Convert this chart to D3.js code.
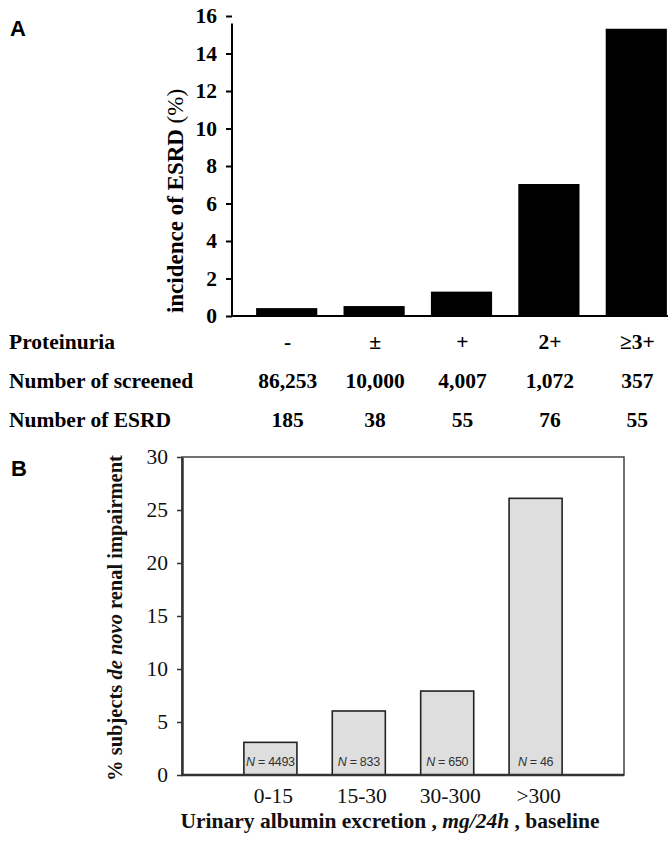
<!DOCTYPE html>
<html>
<head>
<meta charset="utf-8">
<script src="https://cdn.jsdelivr.net/npm/d3@7"></script>
<style>
  body { margin: 0; background: #fff; }
  svg { display: block; }
</style>
</head>
<body>
<svg></svg>
<script>
// panel A data
const proteinuria = ['-', '±', '+', '2+', '≥3+'];
const incidence = [0.42, 0.53, 1.3, 7.04, 15.32];
const screened = [86253, 10000, 4007, 1072, 357];
const esrd = [185, 38, 55, 76, 55];
const ticksA = [0, 2, 4, 6, 8, 10, 12, 14, 16];

// panel B data
const albumin = ['0-15', '15-30', '30-300', '>300'];
const impairment = [3.08, 6.04, 7.92, 26.1];
const subjectsN = [4493, 833, 650, 46];
const ticksB = [0, 5, 10, 15, 20, 25, 30];

const width = 670;
const height = 843;
const serif = '"Liberation Serif", "Times New Roman", serif';
const sans = '"Liberation Sans", Arial, sans-serif';

const svg = d3.select('svg')
    .attr('width', width)
    .attr('height', height);

/* ---------- panel A ---------- */
const xA = d3.scaleBand()
             .domain(proteinuria)
             .range([243, 680])
             .paddingInner(0.3)
             .paddingOuter(0.15);
const yA = d3.scaleLinear()
             .domain([0, 16])
             .range([316, 16]);

const gA = svg.append('g').classed('panelA', true);

gA.append('text')
    .attr('x', 10)
    .attr('y', 36)
    .attr('font-family', sans)
    .attr('font-weight', 'bold')
    .attr('font-size', 22)
    .text('A');

gA.selectAll('.barA')
  .data(incidence)
  .enter()
  .append('rect')
    .classed('barA', true)
    .attr('x', (d, i) => xA(proteinuria[i]))
    .attr('width', xA.bandwidth())
    .attr('y', d => yA(d))
    .attr('height', d => yA(0) - yA(d))
    .attr('fill', '#000');

const axisA = gA.append('g')
    .attr('transform', 'translate(232,0)')
    .call(d3.axisLeft(yA).tickValues(ticksA).tickSize(6).tickPadding(9).tickSizeOuter(0));
axisA.attr('font-family', serif);
axisA.select('.domain').remove();
axisA.selectAll('.tick line').attr('stroke', '#000').attr('stroke-width', 2);
axisA.selectAll('.tick text')
    .attr('font-family', serif)
    .attr('font-weight', 'bold')
    .attr('font-size', 21.5)
    .attr('fill', '#000');

gA.append('line')
    .attr('x1', 232).attr('x2', 232)
    .attr('y1', yA(15.6)).attr('y2', yA(0) + 1)
    .attr('stroke', '#000').attr('stroke-width', 2);
gA.append('line')
    .attr('x1', 231).attr('x2', 668)
    .attr('y1', yA(0)).attr('y2', yA(0))
    .attr('stroke', '#000').attr('stroke-width', 2);

gA.append('text')
    .attr('transform', `translate(183, ${(yA(0) + yA(16)) / 2 + 35}) rotate(-90)`)
    .attr('text-anchor', 'middle')
    .attr('font-family', serif)
    .attr('font-weight', 'bold')
    .attr('font-size', 23)
    .text('incidence of ESRD ')
  .append('tspan')
    .attr('font-weight', 'normal')
    .text('(%)');

// table under panel A
const fmt = d3.format(',');
const rows = [
  { label: 'Proteinuria', values: proteinuria, y: 349 },
  { label: 'Number of screened', values: screened.map(fmt), y: 388 },
  { label: 'Number of ESRD', values: esrd.map(String), y: 427 }
];

const row = gA.selectAll('.row')
  .data(rows)
  .enter()
  .append('g')
    .classed('row', true);

row.append('text')
    .attr('x', 9)
    .attr('y', d => d.y)
    .attr('font-family', serif)
    .attr('font-weight', 'bold')
    .attr('font-size', 21.5)
    .text(d => d.label);

row.selectAll('.cell')
  .data(d => d.values.map((v, i) => ({ v, i, y: d.y })))
  .enter()
  .append('text')
    .classed('cell', true)
    .attr('x', d => xA(proteinuria[d.i]) + xA.bandwidth() / 2 + 1)
    .attr('y', d => d.y)
    .attr('text-anchor', 'middle')
    .attr('font-family', serif)
    .attr('font-weight', 'bold')
    .attr('font-size', 21.5)
    .text(d => d.v);

/* ---------- panel B ---------- */
const xB = d3.scaleBand()
             .domain(albumin)
             .range([226.2, 579.8])
             .paddingInner(0.4)
             .paddingOuter(0.2);
const yB = d3.scaleLinear()
             .domain([0, 30])
             .range([775, 457]);

const gB = svg.append('g').classed('panelB', true);

gB.append('text')
    .attr('x', 11)
    .attr('y', 476)
    .attr('font-family', sans)
    .attr('font-weight', 'bold')
    .attr('font-size', 22)
    .text('B');

gB.append('rect')
    .attr('x', 182)
    .attr('y', yB(30))
    .attr('width', 624 - 182)
    .attr('height', yB(0) - yB(30))
    .attr('fill', 'none')
    .attr('stroke', '#444')
    .attr('stroke-width', 1.5);

gB.selectAll('.barB')
  .data(impairment)
  .enter()
  .append('rect')
    .classed('barB', true)
    .attr('x', (d, i) => xB(albumin[i]))
    .attr('width', xB.bandwidth())
    .attr('y', d => yB(d))
    .attr('height', d => yB(0) - yB(d))
    .attr('fill', '#dedede')
    .attr('stroke', '#222')
    .attr('stroke-width', 1.6);

gB.selectAll('.nlab')
  .data(subjectsN)
  .enter()
  .append('text')
    .classed('nlab', true)
    .attr('x', (d, i) => xB(albumin[i]) + xB.bandwidth() / 2)
    .attr('y', 766)
    .attr('text-anchor', 'middle')
    .attr('font-family', sans)
    .attr('font-size', 12.5)
    .attr('letter-spacing', -0.3)
    .attr('fill', '#333')
    .each(function (d) {
      const t = d3.select(this);
      t.append('tspan').attr('font-style', 'italic').text('N');
      t.append('tspan').text(' = ' + d);
    });

const axisB = gB.append('g')
    .attr('transform', 'translate(182,0)')
    .call(d3.axisLeft(yB).tickValues(ticksB).tickSize(5).tickPadding(9).tickSizeOuter(0));
axisB.attr('font-family', serif);
axisB.select('.domain')
    .attr('stroke', '#333')
    .attr('stroke-width', 2.5);
axisB.selectAll('.tick line').attr('stroke', '#333').attr('stroke-width', 1.5);
axisB.selectAll('.tick text')
    .attr('font-family', serif)
    .attr('font-size', 21.5)
    .attr('fill', '#111');

gB.append('line')
    .attr('x1', 181).attr('x2', 624)
    .attr('y1', yB(0)).attr('y2', yB(0))
    .attr('stroke', '#333').attr('stroke-width', 2.5);

gB.selectAll('.xlab')
  .data(albumin)
  .enter()
  .append('text')
    .classed('xlab', true)
    .attr('x', d => xB(d) + xB.bandwidth() / 2 + 3)
    .attr('y', 803)
    .attr('text-anchor', 'middle')
    .attr('font-family', serif)
    .attr('font-size', 21.5)
    .attr('fill', '#111')
    .text(d => d);

const xTitle = gB.append('text')
    .attr('x', 390)
    .attr('y', 828)
    .attr('text-anchor', 'middle')
    .attr('font-family', serif)
    .attr('font-weight', 'bold')
    .attr('font-size', 21.5)
    .attr('fill', '#111');
xTitle.append('tspan').text('Urinary albumin excretion , ');
xTitle.append('tspan').attr('font-style', 'italic').text('mg/24h');
xTitle.append('tspan').text(' , baseline');

const yTitle = gB.append('text')
    .attr('transform', `translate(122, ${(yB(0) + yB(30)) / 2 + 2}) rotate(-90)`)
    .attr('text-anchor', 'middle')
    .attr('font-family', serif)
    .attr('font-weight', 'bold')
    .attr('font-size', 20.5)
    .attr('fill', '#111');
yTitle.append('tspan').text('% subjects ');
yTitle.append('tspan').attr('font-style', 'italic').text('de novo');
yTitle.append('tspan').text(' renal impairment');
</script>
</body>
</html>
